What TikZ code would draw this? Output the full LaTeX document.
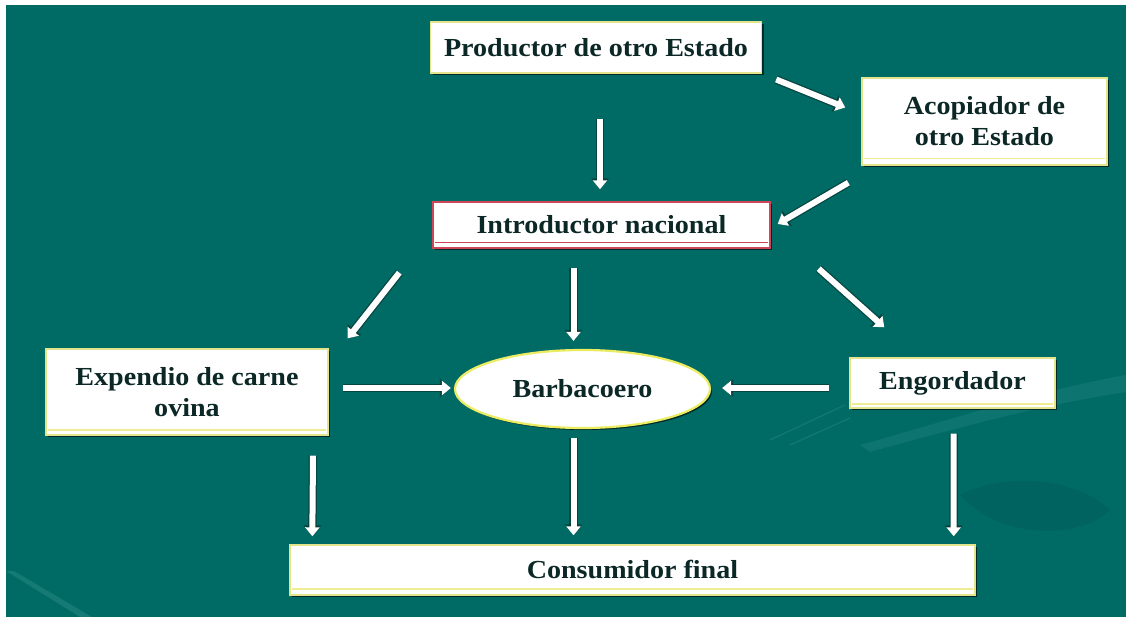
\documentclass[tikz,border=0pt]{standalone}
\usepackage{fontspec}
\usetikzlibrary{shapes.geometric,arrows.meta,shadows}
\newfontfamily\lblfont[FakeStretch=1.08]{Liberation Serif}
\definecolor{bg}{RGB}{0,106,101}
\definecolor{bglight}{RGB}{40,135,130}
\definecolor{edgeyellow}{RGB}{228,228,140}
\definecolor{lineyellow}{RGB}{240,236,150}
\definecolor{edgered}{RGB}{205,70,90}
\definecolor{ink}{RGB}{12,40,38}
\definecolor{arrowedge}{RGB}{10,45,42}
\tikzset{
  lbl/.style={font=\lblfont\bfseries\fontsize{26}{29}\selectfont, text=ink, align=center},
  box/.style={lbl, rectangle, draw=edgeyellow, line width=1.4pt, fill=white,
    drop shadow={shadow xshift=2pt, shadow yshift=-2pt, fill=black, opacity=0.6}},
  oval/.style={lbl, ellipse, draw=edgeyellow!70!yellow, line width=2.2pt, fill=white,
    drop shadow={shadow xshift=2pt, shadow yshift=-2pt, fill=black, opacity=0.6}},
  ul/.style={draw=lineyellow, line width=1.6pt},
  flow/.style={draw=white, line width=6pt, -{Triangle[width=14pt,length=9pt]},
    preaction={draw=arrowedge, draw opacity=0.6, line width=8.5pt,
      -{Triangle[width=17pt,length=11pt]}}},
}
\begin{document}
\begin{tikzpicture}[x=1pt,y=-1pt]
% page and backdrop
\fill[white] (0,0) rectangle (1126,617);
\fill[bg] (6,5) rectangle (1126,617);
\useasboundingbox (0,0) rectangle (1126,617);
% faint swooshes in the backdrop
\fill[bglight, opacity=0.55] (6,571) -- (14,571) -- (92,617) -- (80,617) -- cycle;
\fill[bglight, opacity=0.35] (860,445) .. controls (950,420) and (1040,390) .. (1126,375)
  -- (1126,392) .. controls (1040,405) and (950,430) .. (870,452) -- cycle;
\fill[black, opacity=0.06] (960,495) .. controls (1010,470) and (1080,480) .. (1110,510)
  .. controls (1080,540) and (1000,540) .. (960,495) -- cycle;
\draw[bglight, opacity=0.5, line width=1.2pt] (770,440) -- (845,405);
\draw[bglight, opacity=0.5, line width=1.2pt] (790,445) -- (850,418);

% nodes
\node[box, minimum width=331pt, minimum height=51pt] (prod) at (596,47.5) {Productor de otro Estado};
\node[box, minimum width=245pt, minimum height=87pt] (acop) at (984.5,121.5) {Acopiador de\\[2pt]otro Estado};
\node[box, draw=edgered, minimum width=337pt, minimum height=46pt] (intro) at (601.5,225) {Introductor nacional};
\node[box, minimum width=282pt, minimum height=86pt] (exp) at (187,392) {Expendio de carne\\[2pt]ovina};
\node[oval, minimum width=255pt, minimum height=78pt, inner sep=0pt] (barb) at (582.5,389) {Barbacoero};
\node[box, minimum width=205pt, minimum height=50pt] (eng) at (952.5,383) {Engordador};
\node[box, minimum width=685pt, minimum height=50pt] (cons) at (632.5,570) {Consumidor final};

% inner rules along the lower edges
\draw[ul] ([shift={(3,-7)}]acop.south west) -- ([shift={(-3,-7)}]acop.south east);
\draw[draw=edgered, line width=1.3pt] ([shift={(3,-6)}]intro.south west) -- ([shift={(-3,-6)}]intro.south east);
\draw[ul] ([shift={(3,-6)}]exp.south west) -- ([shift={(-3,-6)}]exp.south east);
\draw[ul] ([shift={(3,-5)}]eng.south west) -- ([shift={(-3,-5)}]eng.south east);
\draw[ul] ([shift={(3,-7)}]cons.south west) -- ([shift={(-3,-7)}]cons.south east);

% flows
\draw[flow] ([shift={(4,45)}]prod.south) -- ([shift={(-1.5,-12)}]intro.north);
\draw[flow] ([shift={(14,32)}]prod.east) -- ([shift={(-16,-14)}]acop.west);
\draw[flow] ([shift={(-13,17)}]acop.south west) -- ([shift={(7,-1)}]intro.east);
\draw[flow] ([shift={(-33,24)}]intro.south west) -- ([shift={(19,-10)}]exp.north east);
\draw[flow] ([shift={(-28,19)}]intro.south) -- ([shift={(-9,-8)}]barb.north);
\draw[flow] ([shift={(48,20)}]intro.south east) -- ([shift={(35,-30)}]eng.north west);
\draw[flow] ([shift={(14,-4)}]exp.east) -- ([shift={(-3,-1)}]barb.west);
\draw[flow] ([shift={(-20,5)}]eng.west) -- ([shift={(11,-1)}]barb.east);
\draw[flow] ([shift={(126,20)}]exp.south) -- ([shift={(23,-8)}]cons.north west);
\draw[flow] ([shift={(-9,9)}]barb.south) -- ([shift={(-59,-9)}]cons.north);
\draw[flow] ([shift={(1,25)}]eng.south) -- ([shift={(-22,-8)}]cons.north east);
\end{tikzpicture}
\end{document}
